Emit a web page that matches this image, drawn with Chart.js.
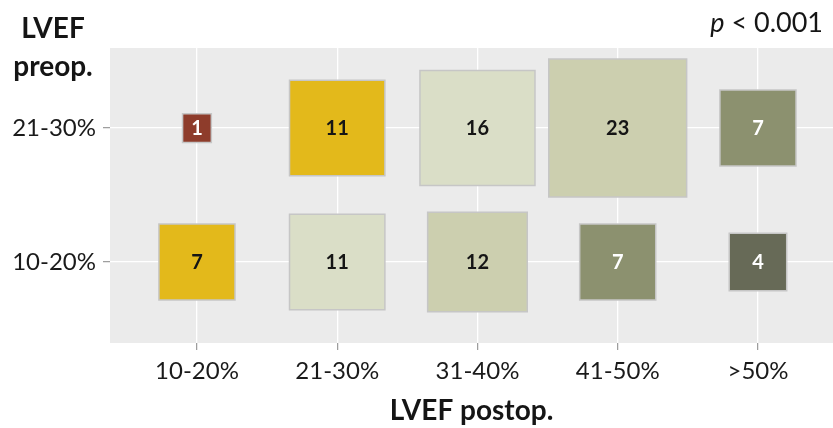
<!DOCTYPE html>
<html>
<head>
<meta charset="utf-8">
<script src="https://cdn.jsdelivr.net/npm/chart.js@4.4.0/dist/chart.umd.min.js"></script>
<style>
  body { margin: 0; background: #fff; }
  #wrap { width: 833px; height: 428px; position: relative; }
</style>
</head>
<body>
<div id="wrap"><canvas id="grid"></canvas></div>
<script>
const postopCats = ["10-20%", "21-30%", "31-40%", "41-50%", ">50%"];
const preopCats = ["10-20%", "21-30%"];
// patients per postop class, one array for each preop class
const countsPre1020 = [7, 11, 12, 7, 4];
const countsPre2130 = [1, 11, 16, 23, 7];
const pText = "< 0.001";

// fill by how many classes the LVEF moved (postop index - preop index)
const changeColors = {
  "-1": "#8e3c2b",
  "0": "#e3b91b",
  "1": "#dadec7",
  "2": "#cccfaf",
  "3": "#8c916f",
  "4": "#676a57"
};
const whiteText = [-1, 3, 4];
const FONT = "Lato";

function rowData(counts, row) {
  return counts.map((n, i) => ({ x: i, y: row, n: n, change: i - row }));
}

const panelBg = {
  id: "panelBg",
  beforeDraw(chart) {
    const a = chart.chartArea, c = chart.ctx;
    c.save();
    c.fillStyle = "#ebebeb";
    c.fillRect(a.left, a.top, a.right - a.left, a.bottom - a.top);
    c.restore();
  }
};

// count written in the middle of each square
const countLabels = {
  id: "countLabels",
  afterDatasetsDraw(chart) {
    const c = chart.ctx;
    c.save();
    c.font = "bold 20px " + FONT;
    c.textAlign = "center";
    c.textBaseline = "middle";
    chart.data.datasets.forEach((ds, di) => {
      chart.getDatasetMeta(di).data.forEach((pt, i) => {
        const d = ds.data[i];
        c.fillStyle = whiteText.includes(d.change) ? "#ffffff" : "#151515";
        c.fillText(String(d.n), pt.x, pt.y + 1);
      });
    });
    c.restore();
  }
};

// y title above the axis and the p value at top right
const cornerText = {
  id: "cornerText",
  afterDraw(chart) {
    const c = chart.ctx;
    c.save();
    c.fillStyle = "#151515";
    c.textAlign = "center";
    c.textBaseline = "alphabetic";
    c.font = "bold 28px " + FONT;
    c.fillText("LVEF", 53, 38);
    c.fillText("preop.", 53, 76);

    c.textAlign = "left";
    c.font = "27px " + FONT;
    const restW = c.measureText(" " + pText).width;
    c.font = "italic 27px " + FONT;
    const pW = c.measureText("p").width;
    const x0 = 823 - restW - pW;
    c.fillText("p", x0, 32);
    c.font = "27px " + FONT;
    c.fillText(" " + pText, x0 + pW, 32);
    c.restore();
  }
};

function catAxis(cats, min, max, titleText) {
  return {
    type: "linear",
    min: min,
    max: max,
    afterBuildTicks: (ax) => { ax.ticks = cats.map((_, i) => ({ value: i })); },
    ticks: {
      callback: (v) => cats[v],
      font: { family: FONT, size: 24 },
      color: "#1a1a1a",
      padding: 7,
      autoSkip: false,
      maxRotation: 0
    },
    grid: {
      color: "#ffffff",
      lineWidth: 1.3,
      tickColor: "#9a9a9a",
      tickLength: 7,
      tickWidth: 1.2
    },
    border: { display: false },
    title: titleText ? {
      display: true,
      text: titleText,
      font: { family: FONT, size: 28, weight: "bold" },
      color: "#151515",
      padding: { top: 0, bottom: 0 }
    } : { display: false }
  };
}

const xAxis = catAxis(postopCats, -0.62, 4.535, "LVEF postop.");
xAxis.afterFit = (s) => { s.height = 85; };
const yAxis = catAxis(preopCats, -0.604, 1.597, null);
yAxis.afterFit = (s) => { s.width = 110; };

function squareRadius(c) {
  if (!c.raw) return 0;
  const x = c.chart.scales.x;
  const unit = x.getPixelForValue(1) - x.getPixelForValue(0);
  // square area follows the count
  return 0.205 * Math.sqrt(c.raw.n) * unit / Math.SQRT2;
}

function squareDataset(counts, row) {
  return {
    data: rowData(counts, row),
    pointStyle: "rect",
    pointRadius: squareRadius,
    pointHoverRadius: squareRadius,
    backgroundColor: (c) => c.raw ? changeColors[c.raw.change] : "#ccc",
    borderColor: "#c6c6c6",
    borderWidth: 1.5
  };
}

new Chart(document.getElementById("grid"), {
  type: "scatter",
  data: {
    datasets: [
      squareDataset(countsPre2130, 1),
      squareDataset(countsPre1020, 0)
    ]
  },
  options: {
    responsive: true,
    maintainAspectRatio: false,
    animation: false,
    events: [],
    layout: { padding: { top: 48, right: 0, left: 0, bottom: 0 } },
    plugins: { legend: { display: false }, tooltip: { enabled: false } },
    scales: { x: xAxis, y: yAxis }
  },
  plugins: [panelBg, countLabels, cornerText]
});
</script>
</body>
</html>
